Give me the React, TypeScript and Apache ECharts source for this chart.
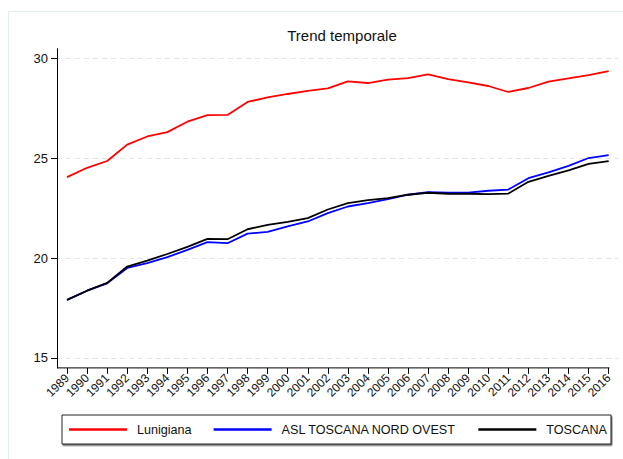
import React, { useEffect, useRef } from "react";
import * as echarts from "echarts";

const years = ["1989","1990","1991","1992","1993","1994","1995","1996","1997","1998","1999","2000","2001","2002","2003","2004","2005","2006","2007","2008","2009","2010","2011","2012","2013","2014","2015","2016"];
const lunigiana = [24.06,24.53,24.87,25.69,26.1,26.32,26.84,27.17,27.18,27.83,28.06,28.23,28.39,28.51,28.86,28.78,28.95,29.03,29.21,28.98,28.81,28.63,28.33,28.53,28.85,29.01,29.18,29.38];
const asl = [17.91,18.37,18.74,19.51,19.75,20.05,20.42,20.8,20.75,21.23,21.32,21.59,21.84,22.26,22.59,22.76,22.96,23.18,23.31,23.29,23.29,23.38,23.44,24.01,24.3,24.63,25.02,25.17];
const toscana = [17.91,18.37,18.76,19.58,19.88,20.21,20.57,20.97,20.95,21.45,21.67,21.82,22.01,22.44,22.76,22.91,23.01,23.18,23.28,23.23,23.23,23.21,23.24,23.83,24.13,24.4,24.73,24.87];
const yTicks = [15, 20, 25, 30];
const seriesNames = ["Lunigiana", "ASL TOSCANA NORD OVEST", "TOSCANA"];
const seriesColors = ["#ff0000", "#0000ff", "#000000"];

export default function App() {
  const ref = useRef<HTMLDivElement>(null);
  useEffect(() => {
    if (!ref.current) return;
    const chart = echarts.init(ref.current, null, { renderer: "svg" });
    const font = "Liberation Sans, Arial, sans-serif";
    const dataSets = [lunigiana, asl, toscana];
    chart.setOption({
      animation: false,
      backgroundColor: "#ffffff",
      textStyle: { fontFamily: font },
      title: {
        text: "Trend temporale",
        left: 337,
        textAlign: "center",
        top: 23,
        textStyle: { fontSize: 15, fontWeight: "normal", color: "#111", fontFamily: font },
      },
      graphic: [
        {
          type: "rect",
          shape: { x: 8.5, y: 11.5, width: 700, height: 600 },
          style: { fill: "none", stroke: "#e3eded", lineWidth: 1 },
          silent: true,
          z: -10,
        },
        {
          type: "line",
          shape: { x1: 57, y1: 367.9, x2: 609.5, y2: 367.9 },
          style: { stroke: "#000", lineWidth: 1 },
          silent: true,
          z: 10,
        },
      ],
      grid: { left: 57, top: 48.7, width: 561.7, height: 319.2, containLabel: false },
      legend: {
        data: seriesNames,
        left: 62,
        top: 415,
        width: 560,
        icon: "rect",
        itemWidth: 58,
        itemHeight: 2.5,
        itemGap: 22,
        padding: [8, 4, 8, 7],
        borderColor: "#222",
        borderWidth: 1,
        backgroundColor: "#fff",
        shadowColor: "rgba(0,0,0,0.55)",
        shadowBlur: 1,
        shadowOffsetX: 1,
        shadowOffsetY: 1.5,
        textStyle: { fontSize: 12.6, color: "#111", fontFamily: font, padding: [0, 0, 0, 5] },
      },
      xAxis: {
        type: "category",
        data: years,
        boundaryGap: true,
        axisLine: { show: false },
        axisTick: { show: true, alignWithLabel: true, interval: 0, length: 6, lineStyle: { color: "#000" } },
        axisLabel: { interval: 0, rotate: 45, fontSize: 12, color: "#111", margin: 8, fontFamily: font },
        splitLine: { show: false },
      },
      yAxis: {
        type: "value",
        min: 14.5,
        max: 30.5,
        axisLine: { show: true, lineStyle: { color: "#000", width: 1 } },
        axisTick: { show: true, length: 6, customValues: yTicks, lineStyle: { color: "#000" } },
        axisLabel: { customValues: yTicks, fontSize: 13, color: "#111", margin: 9, fontFamily: font },
        splitLine: { show: true, lineStyle: { color: "#e4e4e4", type: [5, 4], width: 1 } },
      },
      series: seriesNames.map((name, i) => ({
        name,
        type: "line",
        data: dataSets[i],
        symbol: "none",
        showSymbol: false,
        lineStyle: { color: seriesColors[i], width: 1.8 },
        itemStyle: { color: seriesColors[i] },
      })),
    });
    return () => chart.dispose();
  }, []);
  return (
    <div
      ref={ref}
      style={{ position: "absolute", left: 0, top: 0, width: 623, height: 459 }}
    />
  );
}
